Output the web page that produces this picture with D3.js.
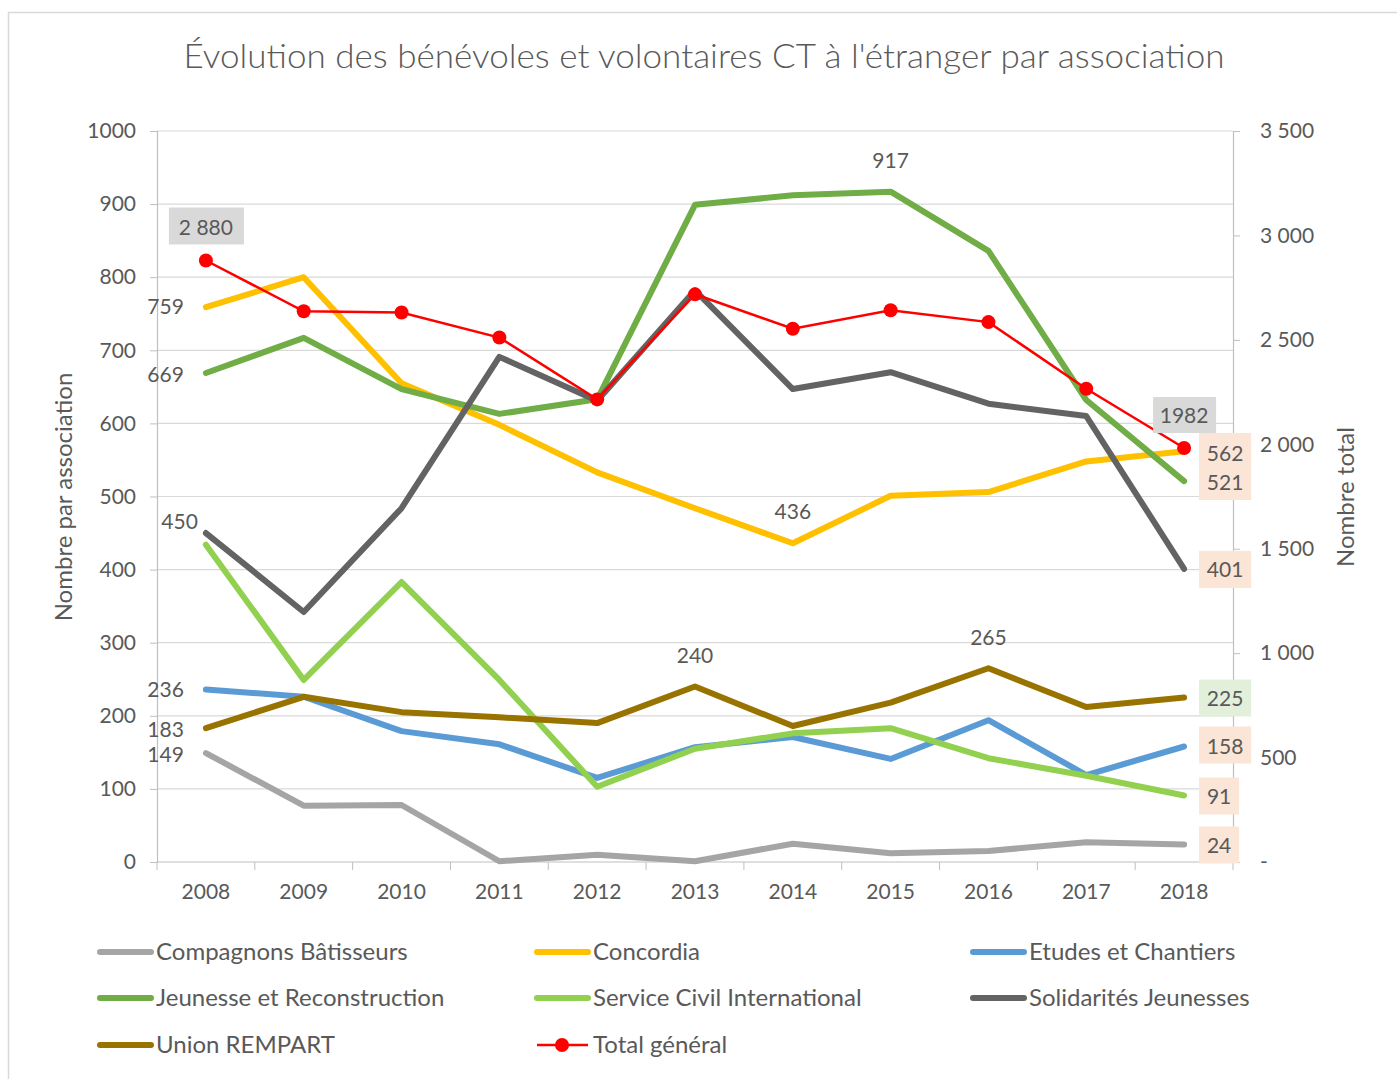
<!DOCTYPE html>
<html>
<head>
<meta charset="utf-8">
<script src="https://cdn.jsdelivr.net/npm/d3@7"></script>
<style>
  body { margin: 0; background: #fff; }
  svg text { font-family: Lato, "Open Sans", sans-serif; fill: #595959; }
</style>
</head>
<body>
<svg id="chart" width="1397" height="1079"></svg>
<script>
// data
const years = ["2008","2009","2010","2011","2012","2013","2014","2015","2016","2017","2018"];
const compagnons = [149, 77, 78, 1, 10, 1, 25, 12, 15, 27, 24];
const concordia  = [759, 800, 655, 598, 533, 484, 436, 501, 506, 548, 562];
const etudes     = [236, 226, 179, 161, 115, 157, 171, 141, 194, 119, 158];
const jeunesse   = [669, 717, 647, 613, 633, 899, 912, 917, 836, 632, 521];
const sci        = [434, 249, 383, 249, 103, 155, 176, 183, 142, 118, 91];
const solidarites= [450, 342, 484, 691, 631, 782, 647, 670, 627, 610, 401];
const rempart    = [183, 226, 205, 198, 190, 240, 186, 218, 265, 212, 225];
const total      = [2880, 2637, 2631, 2511, 2215, 2718, 2553, 2642, 2585, 2266, 1982];
const leftTicks  = [0,100,200,300,400,500,600,700,800,900,1000];
const rightTicks = [0,500,1000,1500,2000,2500,3000,3500];

const series = [
  {name: "Compagnons Bâtisseurs", values: compagnons, color: "#a5a5a5"},
  {name: "Concordia", values: concordia, color: "#ffc000"},
  {name: "Etudes et Chantiers", values: etudes, color: "#5b9bd5"},
  {name: "Jeunesse et Reconstruction", values: jeunesse, color: "#70ad47"},
  {name: "Service Civil International", values: sci, color: "#92d050"},
  {name: "Solidarités Jeunesses", values: solidarites, color: "#636363"},
  {name: "Union REMPART", values: rempart, color: "#997300"}
];

const svg = d3.select("#chart");
const plot = {left: 157, right: 1233, top: 131, bottom: 862};

svg.append("rect").attr("x", 8.5).attr("y", 12.5).attr("width", 1400).attr("height", 1070)
  .attr("fill", "#fff").attr("stroke", "#d9d9d9").attr("stroke-width", 1.5);

const x = d3.scaleBand().domain(years).range([plot.left, plot.right]);
const y = d3.scaleLinear().domain([0, 1000]).range([plot.bottom, plot.top]);
const y2 = d3.scaleLinear().domain([0, 3500]).range([plot.bottom, plot.top]);
const cx = d => x(d) + x.bandwidth() / 2;

// gridlines
svg.append("g").selectAll("line").data(leftTicks.filter(d => d > 0)).join("line")
  .attr("x1", plot.left).attr("x2", plot.right)
  .attr("y1", d => y(d)).attr("y2", d => y(d))
  .attr("stroke", "#d9d9d9").attr("stroke-width", 1.2);

// left axis
const gL = svg.append("g").attr("transform", `translate(${plot.left},0)`)
  .call(d3.axisLeft(y).tickValues(leftTicks).tickSize(7).tickPadding(14).tickFormat(d3.format("d")));
// right axis
const gR = svg.append("g").attr("transform", `translate(${plot.right},0)`)
  .call(d3.axisRight(y2).tickValues(rightTicks).tickSize(7).tickPadding(20)
    .tickFormat(d => d === 0 ? "-" : d3.format(",")(d).replace(",", " ")));
// bottom axis
const gB = svg.append("g").attr("transform", `translate(0,${plot.bottom})`)
  .call(d3.axisBottom(x).tickSize(0).tickPadding(22));
gB.selectAll(".tick line").remove();
gB.append("g").selectAll("line").data(years.concat(["end"])).join("line")
  .attr("x1", (d, i) => plot.left + i * x.bandwidth())
  .attr("x2", (d, i) => plot.left + i * x.bandwidth())
  .attr("y1", 0).attr("y2", 8).attr("stroke", "#bfbfbf");

[gL, gR, gB].forEach(g => {
  g.select(".domain").attr("stroke", "#bfbfbf").attr("stroke-width", 1.2);
  g.selectAll(".tick line").attr("stroke", "#bfbfbf");
  g.selectAll("text").attr("font-size", 21).attr("fill", "#595959");
});
gB.select(".domain").attr("d", `M${plot.left},0H${plot.right}`);

// axis titles
svg.append("text").attr("transform", "translate(72,497) rotate(-90)")
  .attr("text-anchor", "middle").attr("font-size", 24).text("Nombre par association");
svg.append("text").attr("transform", "translate(1354,497) rotate(-90)")
  .attr("text-anchor", "middle").attr("font-size", 24).text("Nombre total");

// title
svg.append("text").attr("x", 704).attr("y", 68).attr("text-anchor", "middle")
  .attr("font-size", 33).attr("font-weight", 300)
  .attr("textLength", 1041).attr("lengthAdjust", "spacingAndGlyphs")
  .text("Évolution des bénévoles et volontaires CT à l'étranger par association");

// series lines
const line = d3.line().x((d, i) => cx(years[i])).y(d => y(d));
svg.append("g").selectAll("path").data(series).join("path")
  .attr("d", s => line(s.values))
  .attr("fill", "none").attr("stroke", s => s.color)
  .attr("stroke-width", 6).attr("stroke-linecap", "round").attr("stroke-linejoin", "round");

// total line
const line2 = d3.line().x((d, i) => cx(years[i])).y(d => y2(d));
svg.append("path").attr("d", line2(total)).attr("fill", "none")
  .attr("stroke", "#ff0000").attr("stroke-width", 2.5);
svg.append("g").selectAll("circle").data(total).join("circle")
  .attr("cx", (d, i) => cx(years[i])).attr("cy", d => y2(d)).attr("r", 7).attr("fill", "#ff0000");

// data labels
const fmt = d => String(d);
const lblG = svg.append("g").attr("font-size", 20);
function label(txt, lx, ly, anchor) {
  lblG.append("text").attr("x", lx).attr("y", ly).attr("text-anchor", anchor || "middle")
    .attr("dy", "0.35em").attr("font-size", 21).attr("fill", "#404040").text(txt);
}
function box(bx, by, w, h, fill) {
  lblG.append("rect").attr("x", bx).attr("y", by).attr("width", w).attr("height", h).attr("fill", fill);
}
const x0 = cx("2008"), xEnd = cx("2018");
// 2008 labels on the left
label(fmt(concordia[0]), x0 - 22, y(concordia[0]) - 1, "end");
label(fmt(jeunesse[0]), x0 - 22, y(jeunesse[0]) + 2, "end");
label(fmt(solidarites[0]), x0 - 8, y(solidarites[0]) - 11, "end");
label(fmt(etudes[0]), x0 - 22, y(etudes[0]), "end");
label(fmt(rempart[0]), x0 - 22, y(rempart[0]) + 1, "end");
label(fmt(compagnons[0]), x0 - 22, y(compagnons[0]) + 2, "end");
// 2880 total label
box(x0 - 37, y2(total[0]) - 53, 75, 37, "#d9d9d9");
label("2 880", x0, y2(total[0]) - 33);
// top labels
label(fmt(jeunesse[7]), cx("2015"), y(jeunesse[7]) - 31);
label(fmt(concordia[6]), cx("2014"), y(concordia[6]) - 32);
label(fmt(rempart[5]), cx("2013"), y(rempart[5]) - 31);
label(fmt(rempart[8]), cx("2016"), y(rempart[8]) - 31);
// 2018 total label
box(xEnd - 31, y2(total[10]) - 51, 63, 36, "#d9d9d9");
label(fmt(total[10]), xEnd, y2(total[10]) - 32);
// 2018 labels on the right
const rx = xEnd + 15;
box(rx, 433, 52, 67, "#fbe5d6");
label(fmt(concordia[10]), rx + 26, y(concordia[10]) + 2);
label(fmt(jeunesse[10]), rx + 26, y(jeunesse[10]) + 2);
box(rx, y(solidarites[10]) - 18, 52, 37, "#fbe5d6");
label(fmt(solidarites[10]), rx + 26, y(solidarites[10]) + 1);
box(rx, y(rempart[10]) - 18, 52, 37, "#e2efda");
label(fmt(rempart[10]), rx + 26, y(rempart[10]) + 1);
box(rx, y(etudes[10]) - 20, 52, 37, "#fbe5d6");
label(fmt(etudes[10]), rx + 26, y(etudes[10]));
box(rx, y(sci[10]) - 18, 40, 37, "#fbe5d6");
label(fmt(sci[10]), rx + 20, y(sci[10]) + 1);
box(rx, y(compagnons[10]) - 18, 40, 37, "#fbe5d6");
label(fmt(compagnons[10]), rx + 20, y(compagnons[10]) + 1);

// legend
const legendItems = series.concat([{name: "Total général", color: "#ff0000", marker: true}]);
const colX = [97, 534, 970], rowY = [952, 998, 1045];
const lg = svg.append("g").selectAll("g").data(legendItems).join("g")
  .attr("transform", (d, i) => `translate(${colX[i % 3]},${rowY[Math.floor(i / 3)]})`);
lg.append("line").attr("x1", 3).attr("x2", 54).attr("y1", 0).attr("y2", 0)
  .attr("stroke", d => d.color).attr("stroke-width", d => d.marker ? 2.5 : 6)
  .attr("stroke-linecap", d => d.marker ? "butt" : "round");
lg.filter(d => d.marker).append("circle").attr("cx", 28).attr("cy", 0).attr("r", 7).attr("fill", "#ff0000");
lg.append("text").attr("x", 59).attr("y", 0).attr("dy", "0.35em").attr("font-size", 24)
  .attr("fill", "#595959").text(d => d.name);
</script>
</body>
</html>
